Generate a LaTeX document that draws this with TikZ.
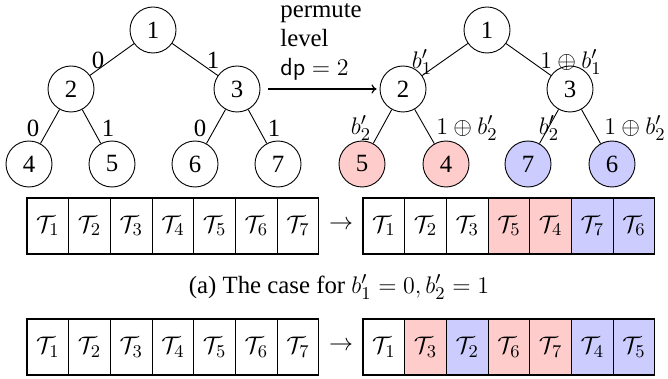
\documentclass[tikz,border=0pt]{standalone}
\usepackage{fontspec}
\setmainfont{Liberation Serif}
\usetikzlibrary{arrows.meta}
\definecolor{cred}{RGB}{255,204,204}
\definecolor{cblue}{RGB}{204,204,255}
\begin{document}
\begin{tikzpicture}[x=0.5pt,y=-0.5pt,font=\fontsize{12.4}{14}\selectfont,
  tn/.style={circle,draw,line width=0.45pt,minimum size=23pt,inner sep=0pt},
  tedge/.style={line width=0.45pt},
  lab/.style={inner sep=0pt},
  cell/.style={draw,line width=0.55pt,minimum width=20.85pt,minimum height=28pt,inner sep=0pt},
  rc/.style={cell,fill=cred},
  bc/.style={cell,fill=cblue},
  wc/.style={cell,fill=white}]
\useasboundingbox (0,0) rectangle (668,379);
% left tree
\node[tn] (l1) at (153,30) {1};
\node[tn] (l2) at (71,89) {2};
\node[tn] (l3) at (237,89) {3};
\node[tn] (l4) at (29,164) {4};
\node[tn] (l5) at (112,164) {5};
\node[tn] (l6) at (195,164) {6};
\node[tn] (l7) at (278,164) {7};
\draw[tedge] (l1) -- (l2);
\draw[tedge] (l1) -- (l3);
\draw[tedge] (l2) -- (l4);
\draw[tedge] (l2) -- (l5);
\draw[tedge] (l3) -- (l6);
\draw[tedge] (l3) -- (l7);
\node[lab] (e12) at (98,60) {0};
\node[lab] (e13) at (213,60) {1};
\node[lab] (e24) at (33,128) {0};
\node[lab] (e25) at (108,128) {1};
\node[lab] (e36) at (200,128) {0};
\node[lab] (e37) at (274,128) {1};
% right tree
\node[tn] (r1) at (487,30) {1};
\node[tn] (r2) at (403,89) {2};
\node[tn] (r3) at (570,89) {3};
\node[tn,fill=cred] (r5) at (362,164) {5};
\node[tn,fill=cred] (r4) at (446,164) {4};
\node[tn,fill=cblue] (r7) at (528,164) {7};
\node[tn,fill=cblue] (r6) at (612,164) {6};
\draw[tedge] (r1) -- (r2);
\draw[tedge] (r1) -- (r3);
\draw[tedge] (r2) -- (r5);
\draw[tedge] (r2) -- (r4);
\draw[tedge] (r3) -- (r7);
\draw[tedge] (r3) -- (r6);
\node[lab] (f12) at (422,62) {$b_1'$};
\node[lab] (f13) at (571,62) {$1\oplus b_1'$};
\node[lab] (f25) at (361,128) {$b_2'$};
\node[lab] (f24) at (467,128) {$1\oplus b_2'$};
\node[lab] (f37) at (549,128) {$b_2'$};
\node[lab] (f36) at (635,128) {$1\oplus b_2'$};
% permute arrow
\draw[line width=0.6pt,-{To[length=2.5pt,width=4.5pt]},shorten <=4pt,shorten >=1.5pt] (l3) -- (r2);
\node[lab,anchor=base west] (perm1) at (280,18) {permute};
\node[lab,anchor=base west] (perm2) at (280,47) {level};
\node[lab,anchor=base west] (perm3) at (280,76) {$\mathsf{dp}=2$};
% arrays row 1
\foreach \t [count=\k] in {1,...,7}{
  \node[wc] (a\k) at ({27+41.7*(\k-0.5)},226) {$\mathcal{T}_{\t}$};
}
\foreach \t/\s [count=\k] in {1/wc,2/wc,3/wc,5/rc,4/rc,7/bc,6/bc}{
  \node[\s] (b\k) at ({363+41.7*(\k-0.5)},226) {$\mathcal{T}_{\t}$};
}
\node[lab] (arr1) at (341,225) {$\rightarrow$};
% caption
\node[lab] (cap) at (339,287) {(a) The case for $b_1'=0,b_2'=1$};
% arrays row 2
\foreach \t [count=\k] in {1,...,7}{
  \node[wc] (c\k) at ({27+41.7*(\k-0.5)},347) {$\mathcal{T}_{\t}$};
}
\foreach \t/\s [count=\k] in {1/wc,3/rc,2/bc,6/rc,7/rc,4/bc,5/bc}{
  \node[\s] (d\k) at ({363+41.7*(\k-0.5)},347) {$\mathcal{T}_{\t}$};
}
\node[lab] (arr2) at (341,346) {$\rightarrow$};
\end{tikzpicture}
\end{document}
